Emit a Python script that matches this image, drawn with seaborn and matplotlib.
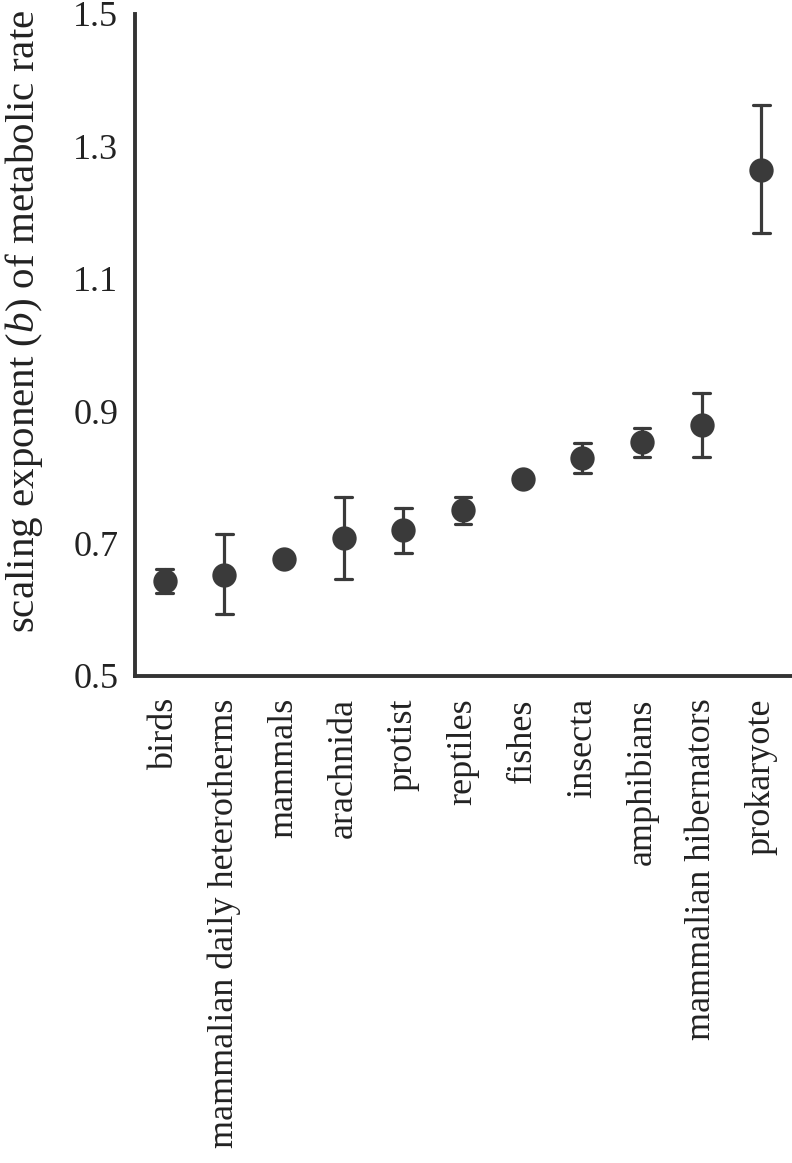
import matplotlib
matplotlib.use("Agg")
import matplotlib.pyplot as plt
import seaborn as sns
import pandas as pd
import numpy as np

categories = ["birds", "mammalian daily heterotherms", "mammals", "arachnida",
              "protist", "reptiles", "fishes", "insecta", "amphibians",
              "mammalian hibernators", "prokaryote"]
b_value = [0.643, 0.653, 0.676, 0.709, 0.721, 0.751, 0.797, 0.829, 0.853, 0.879, 1.265]
ci_low  = [0.625, 0.593, 0.676, 0.646, 0.686, 0.730, 0.797, 0.807, 0.831, 0.831, 1.169]
ci_high = [0.661, 0.714, 0.676, 0.771, 0.754, 0.770, 0.797, 0.852, 0.875, 0.927, 1.362]
y_ticks = [0.5, 0.7, 0.9, 1.1, 1.3, 1.5]

rows = []
for c, lo, m, hi in zip(categories, ci_low, b_value, ci_high):
    for v in (lo, m, hi):
        rows.append({"group": c, "b": v})
df = pd.DataFrame(rows)

sns.set_style("white")
plt.rcParams["font.family"] = ["Liberation Serif", "DejaVu Serif"]
plt.rcParams["mathtext.fontset"] = "custom"
plt.rcParams["mathtext.it"] = "Liberation Serif:italic"
plt.rcParams["mathtext.rm"] = "Liberation Serif"

col = "#3a3a3a"
fs = 26
fig = plt.figure(figsize=(7.92, 11.63), dpi=100)
ax = fig.add_axes([135/792, 1 - 676/1163, 656/792, 662/1163])

sns.pointplot(data=df, x="group", y="b", order=categories,
              estimator="median", errorbar=lambda v: (np.min(v), np.max(v)),
              linestyle="none", markers="o", color=col, capsize=0.28,
              err_kws={"linewidth": 2.3}, markersize=15.5, ax=ax)

ax.set_xlim(-0.5, 10.5)
ax.set_ylim(0.5, 1.5)
ax.set_yticks(y_ticks)
ax.set_yticklabels([f"{t:.1f}" for t in y_ticks])
ax.set_xticks(range(len(categories)))
ax.set_xticklabels(categories, rotation=90, va="top", ha="center")
ax.set_xticks(np.arange(0.5, len(categories), 1.0), minor=True)

for s in ["top", "right"]:
    ax.spines[s].set_visible(False)
for s in ["left", "bottom"]:
    ax.spines[s].set_linewidth(2.8)
    ax.spines[s].set_color("#333333")

ax.tick_params(axis="x", which="major", length=0, pad=16, labelsize=fs, labelcolor="#222222")
ax.tick_params(axis="x", which="minor", length=9, width=2.5, direction="out", color="#333333")
ax.tick_params(axis="y", which="major", length=9, width=2.5, direction="in", pad=12,
               labelsize=fs, color="#333333", labelcolor="#222222")
ax.set_xlabel("")
ax.set_ylabel(r"scaling exponent ($b$) of metabolic rate", fontsize=29.5, color="#222222")
ax.yaxis.set_label_coords(-0.137, 0.536)
ax.grid(False)

fig.savefig("out.png", dpi=100)
